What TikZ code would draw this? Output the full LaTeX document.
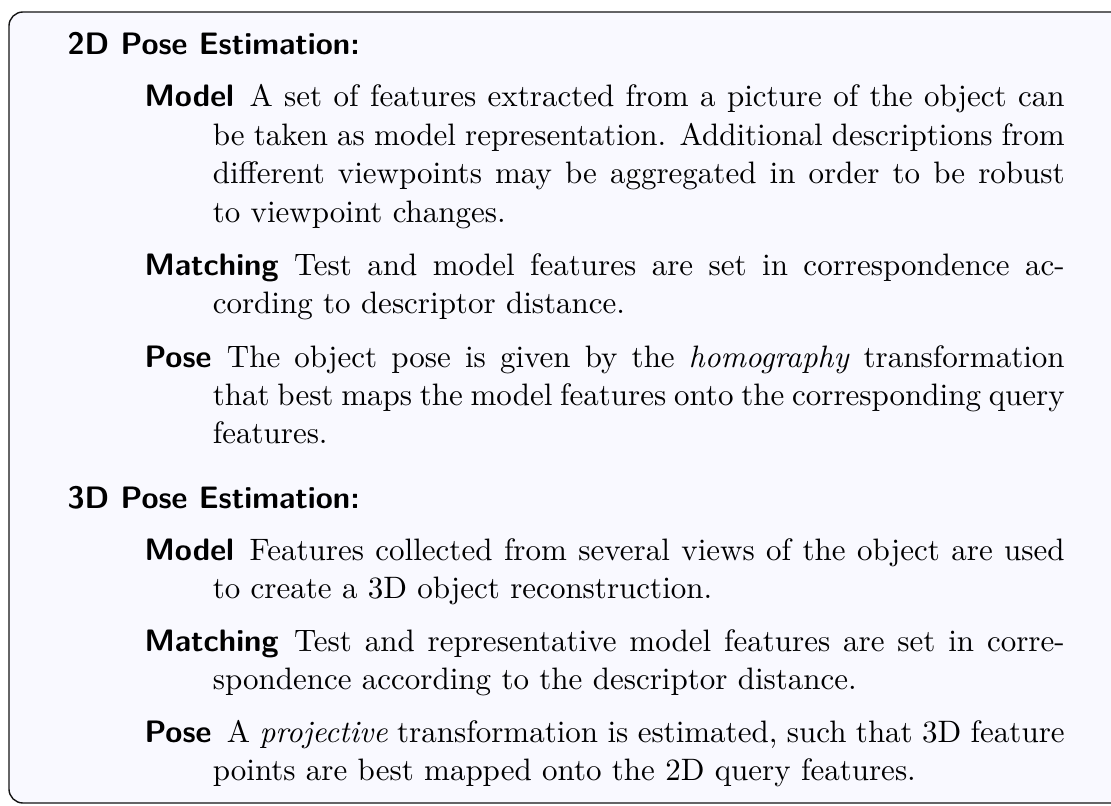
\documentclass[tikz,border=0pt]{standalone}
\usepackage{fontspec}
\definecolor{panelfill}{RGB}{249,249,255}
\definecolor{panelline}{RGB}{20,20,20}
\tikzset{
  panel/.style={draw=panelline, fill=panelfill, line width=0.45pt, rounded corners=4.5pt},
  sectionhead/.style={anchor=base west, inner sep=0pt, font=\sffamily\bfseries},
  entrybox/.style={anchor=base west, inner sep=0pt, text width=296.8pt, align=justify},
}
% label of a list entry followed by its body, with a hanging indent
\newcommand{\entrytext}[2]{\baselineskip=12.4pt\noindent\hangindent=22pt\hangafter=1 {\sffamily\bfseries #1}\hspace{0.5em}#2\par}
\begin{document}
\begin{tikzpicture}[x=0.32258pt, y=-0.32258pt]
  \path[use as bounding box, clip] (0,0) rectangle (1111,805);
  \fill[white] (0,0) rectangle (1111,805);
  \draw[panel] (9,12) rectangle (1140,803);

  \node[sectionhead] (h2d) at (67,55) {2D Pose Estimation:};
  \node[entrybox] (model2d) at (144,107) {\entrytext{Model}{A set of features extracted from a picture of the object can\linebreak be taken as model representation. Additional descriptions from\linebreak different viewpoints may be aggregated in order to be robust\linebreak to viewpoint changes.}};
  \node[entrybox] (match2d) at (144,275) {\entrytext{Matching}{Test and model features are set in correspondence ac-\linebreak cording to descriptor distance.}};
  \node[entrybox] (pose2d) at (144,367) {\entrytext{Pose}{The object pose is given by the \emph{homography} transformation\linebreak that best maps the model features onto the corresponding query\linebreak features.}};

  \node[sectionhead] (h3d) at (67,508) {3D Pose Estimation:};
  \node[entrybox] (model3d) at (144,560) {\entrytext{Model}{Features collected from several views of the object are used\linebreak to create a 3D object reconstruction.}};
  \node[entrybox] (match3d) at (144,651) {\entrytext{Matching}{Test and representative model features are set in corre-\linebreak spondence according to the descriptor distance.}};
  \node[entrybox] (pose3d) at (144,742) {\entrytext{Pose}{A \emph{projective} transformation is estimated, such that 3D feature\linebreak points are best mapped onto the 2D query features.}};
\end{tikzpicture}
\end{document}
